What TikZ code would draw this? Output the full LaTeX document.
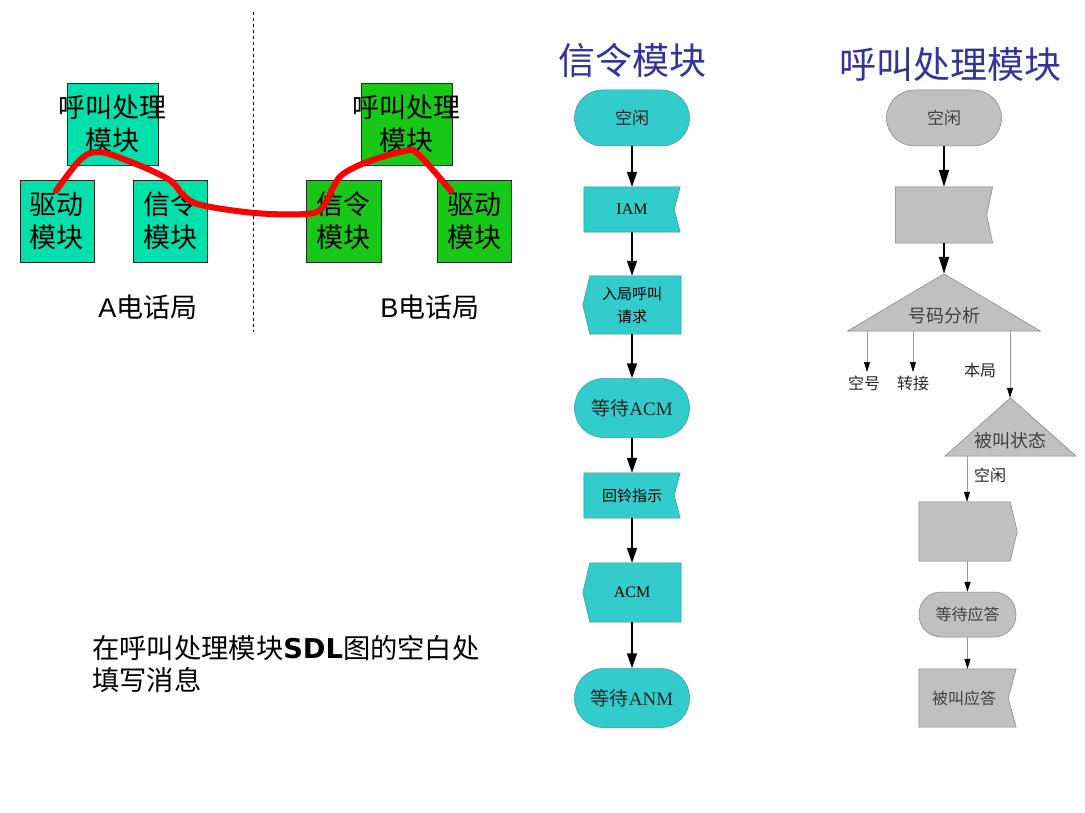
\documentclass[tikz,border=0pt]{standalone}
\usepackage{fontspec}
\setmainfont{Liberation Serif}
\newfontfamily\cjk{Noto Sans CJK SC}
\newfontfamily\lser{Liberation Serif}
\newfontfamily\lsans{Liberation Sans}
\newfontfamily\dvs{DejaVu Sans}
\usetikzlibrary{arrows.meta,backgrounds}
\definecolor{tealA}{RGB}{0,224,170}
\definecolor{greenB}{RGB}{24,200,24}
\definecolor{sdlteal}{RGB}{51,204,204}
\definecolor{sdlgray}{RGB}{192,192,192}
\definecolor{titleblue}{RGB}{51,51,153}
\begin{document}
\begin{tikzpicture}[x=1pt,y=-1pt,
  modA/.style={draw=black!85, line width=0.8pt, fill=tealA, inner sep=0pt, minimum height=82pt},
  modB/.style={draw=black!85, line width=0.8pt, fill=greenB, inner sep=0pt, minimum height=82pt},
  modtxt/.style={inner sep=0pt, align=center, font=\cjk\fontsize{27}{33}\selectfont},
  stadT/.style={draw=sdlteal!75!black, line width=0.5pt, fill=sdlteal, rounded corners=28pt, inner sep=0pt, align=center, text=black!85},
  stadG/.style={draw=gray, line width=0.5pt, fill=sdlgray, rounded corners=22pt, inner sep=0pt, align=center, text=black!75},
  sym/.style={inner sep=0pt, align=center},
  tealsh/.style={draw=sdlteal!75!black, line width=0.5pt, fill=sdlteal},
  graysh/.style={draw=gray, line width=0.5pt, fill=sdlgray},
  sarrow/.style={line width=1.6pt, -{Triangle[length=15pt,width=10pt]}},
  garrow/.style={line width=1.8pt, -{Triangle[length=17pt,width=10pt]}},
  tarrow/.style={draw=gray!80, line width=0.7pt, -{Triangle[length=10pt,width=6pt,color=black]}},
  lbl/.style={inner sep=0pt, text=black!85, font=\cjk\fontsize{16}{18}\selectfont}
]
\useasboundingbox (0,0) rectangle (1085,813);

% ---------- left part ----------
\coordinate (dtop) at (253,12);
\coordinate (dbot) at (253,332);
\draw[line width=0.8pt, dash pattern=on 3pt off 3pt] (dtop) -- (dbot);

\node[modA, minimum width=91pt] (aproc) at (112.5,124) {};
\node[modA, minimum width=74pt] (adrv) at (57,221) {};
\node[modA, minimum width=74pt] (asig) at (170,221) {};
\node[modB, minimum width=75pt] (bsig) at (343.5,221) {};
\node[modB, minimum width=91pt] (bproc) at (406.5,124) {};
\node[modB, minimum width=74pt] (bdrv) at (474,221) {};

\node[modtxt] (aproct) at (aproc.center) {呼叫处理\\模块};
\node[modtxt] (adrvt) at (adrv.center) {驱动\\模块};
\node[modtxt] (asigt) at (asig.center) {信令\\模块};
\node[modtxt] (bsigt) at (bsig.center) {信令\\模块};
\node[modtxt] (bproct) at (bproc.center) {呼叫处理\\模块};
\node[modtxt] (bdrvt) at (bdrv.center) {驱动\\模块};

\node[inner sep=0pt, font=\fontsize{27}{30}\selectfont] (aoff) at (148,307) {\lsans A\cjk 电话局};
\node[inner sep=0pt, font=\fontsize{27}{30}\selectfont] (boff) at (430,307) {\lsans B\cjk 电话局};

\draw[red, line width=6pt, line cap=round, line join=round] plot[smooth, tension=0.6] coordinates {
 (56,191) (80,160) (98,152) (126,160) (168,179) (184,196) (201,205) (255,213)
 (305,214) (322,208) (334,186) (343,174) (367,162) (405,151) (418,154) (451,191)};

\node[inner sep=0pt, anchor=west, align=left, font=\cjk\fontsize{27.3}{32}\selectfont] (note) at (92,664)
  {在呼叫处理模块{\dvs\bfseries SDL}图的空白处\\填写消息};

% ---------- titles ----------
\node[inner sep=0pt, text=titleblue, font=\cjk\fontsize{37}{40}\selectfont] (t1) at (632,60) {信令模块};
\node[inner sep=0pt, text=titleblue, font=\cjk\fontsize{37}{40}\selectfont] (t2) at (950,64) {呼叫处理模块};

% ---------- middle flow ----------
\node[stadT, minimum width=115pt, minimum height=56pt, font=\cjk\fontsize{17}{20}\selectfont] (idle1) at (632,118) {空闲};
\node[sym, minimum width=96pt, minimum height=45pt, font=\lser\fontsize{16}{18}\selectfont] (iam) at (632,209.5) {IAM};
\node[sym, minimum width=98pt, minimum height=58pt, font=\cjk\fontsize{15}{23}\selectfont] (req) at (632,305) {入局呼叫\\请求};
\node[stadT, rounded corners=29pt, minimum width=115pt, minimum height=59pt, font=\fontsize{19}{22}\selectfont] (wacm) at (632,408) {\cjk 等待\lser ACM};
\node[sym, minimum width=96pt, minimum height=45pt, font=\cjk\fontsize{15}{18}\selectfont] (ring) at (632,495.5) {回铃指示};
\node[sym, minimum width=98pt, minimum height=59pt, font=\lser\fontsize{16}{18}\selectfont] (acm) at (632,592.5) {ACM};
\node[stadT, rounded corners=29pt, minimum width=115pt, minimum height=59pt, font=\fontsize{19}{22}\selectfont] (wanm) at (632,698) {\cjk 等待\lser ANM};

% ---------- right flow ----------
\node[stadG, rounded corners=28pt, minimum width=115pt, minimum height=56pt, font=\cjk\fontsize{17}{20}\selectfont] (idle2) at (944,118) {空闲};
\node[sym, minimum width=97pt, minimum height=56pt] (inbox) at (944,215) {};
\node[sym, minimum width=193pt, minimum height=57pt] (tri1) at (944,302.5) {};
\node[sym, text=black!75, font=\cjk\fontsize{18}{20}\selectfont] (tri1t) at (944,316) {号码分析};
\node[sym, minimum width=131pt, minimum height=58pt] (tri2) at (1010.5,427) {};
\node[sym, text=black!75, font=\cjk\fontsize{18}{20}\selectfont] (tri2t) at (1010,441) {被叫状态};
\node[sym, minimum width=98pt, minimum height=59pt] (sendbox) at (968,531.5) {};
\node[stadG, minimum width=97pt, minimum height=45pt, font=\cjk\fontsize{16}{18}\selectfont] (wait) at (967.5,614.5) {等待应答};
\node[sym, minimum width=97pt, minimum height=58pt] (ans) at (967.5,698) {};
\node[sym, text=black!75, font=\cjk\fontsize{16}{18}\selectfont] (anst) at (964,698) {被叫应答};

\node[lbl] (kh) at (864,383) {空号};
\node[lbl] (zj) at (913,383) {转接};
\node[lbl] (bj) at (980,370) {本局};
\node[lbl] (kx) at (990,475) {空闲};

% ---------- shapes on background ----------
\begin{scope}[on background layer]
  \path[tealsh] (iam.north west) -- (iam.north east) -- ([xshift=-6pt]iam.east) -- (iam.south east) -- (iam.south west) -- cycle;
  \path[tealsh] ([xshift=7pt]req.north west) -- (req.north east) -- (req.south east) -- ([xshift=7pt]req.south west) -- (req.west) -- cycle;
  \path[tealsh] (ring.north west) -- (ring.north east) -- ([xshift=-6pt]ring.east) -- (ring.south east) -- (ring.south west) -- cycle;
  \path[tealsh] ([xshift=7pt]acm.north west) -- (acm.north east) -- (acm.south east) -- ([xshift=7pt]acm.south west) -- (acm.west) -- cycle;
  \path[graysh] (inbox.north west) -- (inbox.north east) -- ([xshift=-6pt]inbox.east) -- (inbox.south east) -- (inbox.south west) -- cycle;
  \path[graysh] (tri1.north) -- (tri1.south east) -- (tri1.south west) -- cycle;
  \path[graysh] (tri2.north) -- (tri2.south east) -- (tri2.south west) -- cycle;
  \path[graysh] (sendbox.north west) -- ([xshift=-7pt]sendbox.north east) -- (sendbox.east) -- ([xshift=-7pt]sendbox.south east) -- (sendbox.south west) -- cycle;
  \path[graysh] (ans.north west) -- (ans.north east) -- ([xshift=-8pt]ans.east) -- (ans.south east) -- (ans.south west) -- cycle;
\end{scope}

% ---------- arrows ----------
\draw[sarrow] (idle1.south) -- (iam.north);
\draw[sarrow] (iam.south) -- (req.north);
\draw[sarrow] (req.south) -- (wacm.north);
\draw[sarrow] (wacm.south) -- (ring.north);
\draw[sarrow] (ring.south) -- (acm.north);
\draw[sarrow] (acm.south) -- (wanm.north);

\draw[garrow] (idle2.south) -- (inbox.north);
\draw[garrow] (inbox.south) -- (tri1.north);

\coordinate (b1) at (867,331);
\coordinate (b2) at (913,331);
\coordinate (b3) at (1010,331);
\coordinate (t2o) at (967,456);
\draw[tarrow] (b1) -- (867,372);
\draw[tarrow] (b2) -- (913,372);
\draw[tarrow] (b3) -- (b3 |- tri2.north);
\draw[tarrow] (t2o) -- (t2o |- sendbox.north);
\draw[tarrow] (wait.north |- sendbox.south) -- (wait.north);
\draw[tarrow] (wait.south) -- (wait.south |- ans.north);
\end{tikzpicture}
\end{document}
